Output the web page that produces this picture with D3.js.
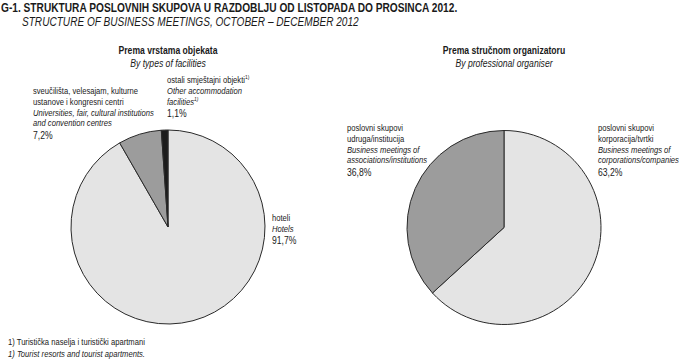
<!DOCTYPE html>
<html>
<head>
<meta charset="utf-8">
<script src="https://cdn.jsdelivr.net/npm/d3@7"></script>
<style>
  body { margin: 0; background: #fff; }
  svg text { font-family: "Liberation Sans", Arial, sans-serif; fill: #1a1a1a; }
  .it { font-style: italic; }
  .b { font-weight: bold; }
</style>
</head>
<body>
<div id="chart"></div>
<script>
/* G-1 pie charts */
const width = 679, height = 359;

// left pie: by types of facilities
const facilityNames = ["hoteli", "sveučilišta i dr.", "ostali smještajni objekti"];
const facilityValues = [91.7, 7.2, 1.1];
// right pie: by professional organiser
const organiserNames = ["korporacije/tvrtke", "udruge/institucije"];
const organiserValues = [63.2, 36.8];

const narrow = 0.82;   // fake "Arial Narrow" by squeezing Liberation Sans

const svg = d3.select("#chart")
    .append("svg")
    .attr("width", width)
    .attr("height", height)
    .attr("viewBox", [0, 0, width, height]);

// one line of (condensed) text; sup adds the footnote mark
function txt(x, y, str, size, cls, anchor, sup) {
    const t = svg.append("text")
        .attr("transform", `translate(${x},${y}) scale(${narrow},1)`)
        .attr("class", cls || null)
        .attr("text-anchor", anchor || "start")
        .style("font-size", size + "px")
        .text(str);
    if (sup) t.append("tspan").attr("dy", -4).style("font-size", "6px").text("1)");
    return t;
}

txt(1, 12, "G-1. STRUKTURA POSLOVNIH SKUPOVA U RAZDOBLJU OD LISTOPADA DO PROSINCA 2012.", 12.4, "b");
txt(22, 26, "STRUCTURE OF BUSINESS MEETINGS, OCTOBER – DECEMBER 2012", 12.3, "it");

const pie = d3.pie().sort(null).value(d => d);
const r = 97;
const arc = d3.arc().innerRadius(0).outerRadius(r);

function drawPie(cx, cy, values, colors) {
    const g = svg.append("g").attr("transform", `translate(${cx},${cy})`);
    g.selectAll("path")
        .data(pie(values))
        .join("path")
        .attr("d", arc)
        .attr("fill", (d, i) => colors[i])
        .attr("stroke", "#2a2a2a")
        .attr("stroke-width", 1);
}

drawPie(168, 227, facilityValues, ["#e4e4e4", "#9c9c9c", "#1c1c1c"]);
drawPie(504, 227.5, organiserValues, ["#e4e4e4", "#9c9c9c"]);

// sub headings
txt(168, 54, "Prema vrstama objekata", 10.5, "b", "middle");
txt(168, 67, "By types of facilities", 10.5, "it", "middle");
txt(504, 54, "Prema stručnom organizatoru", 10.5, "b", "middle");
txt(504, 67, "By professional organiser", 10.5, "it", "middle");

const fmt = v => d3.format(".1f")(v).replace(".", ",") + "%";

// label block: lines = [text, italic, superscript]
function label(x, y, lines, pct) {
    lines.forEach((l, i) => txt(x, y + i * 10.8, l[0], 9.3, l[1] ? "it" : null, "start", l[2]));
    txt(x, y + lines.length * 10.8 + 1.5, pct, 10.5);
}

label(33, 94, [
    ["sveučilišta, velesajam, kulturne"],
    ["ustanove i kongresni centri"],
    ["Universities, fair, cultural institutions", true],
    ["and convention centres", true]
], fmt(facilityValues[1]));
label(167, 83, [
    ["ostali smještajni objekti", false, true],
    ["Other accommodation", true],
    ["facilities", true, true]
], fmt(facilityValues[2]));
label(272, 221, [
    ["hoteli"],
    ["Hotels", true]
], fmt(facilityValues[0]));
label(347, 131, [
    ["poslovni skupovi"],
    ["udruga/institucija"],
    ["Business meetings of", true],
    ["associations/institutions", true]
], fmt(organiserValues[1]));
label(598, 131, [
    ["poslovni skupovi"],
    ["korporacija/tvrtki"],
    ["Business meetings of", true],
    ["corporations/companies", true]
], fmt(organiserValues[0]));

// footnote
txt(8, 345, "1) Turistička naselja i turistički apartmani", 9.3);
txt(8, 357, "1) Tourist resorts and tourist apartments.", 9.3, "it");
</script>
</body>
</html>
